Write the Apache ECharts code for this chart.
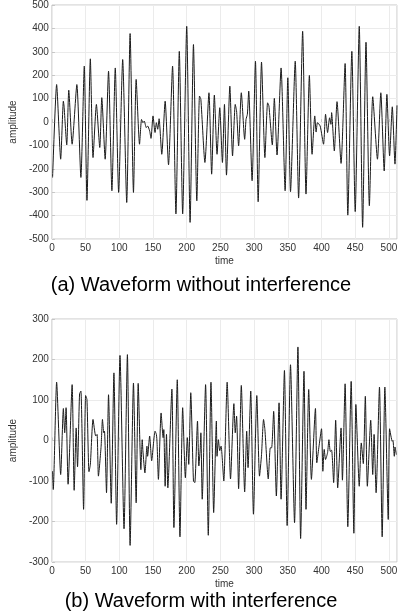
<!DOCTYPE html>
<html>
<head>
<meta charset="utf-8">
<script src="https://cdn.jsdelivr.net/npm/echarts@6/dist/echarts.min.js"></script>
<style>
  html, body { margin: 0; padding: 0; background: #fff; }
  #chart { width: 402px; height: 616px; }
</style>
</head>
<body>
<div id="chart"></div>
<script>
// (a) waveform without interference: time / amplitude
const timesA = [1, 7, 13, 17, 18, 22, 25, 30, 37, 43, 48, 52, 57, 61, 66, 71, 74, 79, 84, 89,
  94, 99, 105, 111, 116, 121, 125, 130, 133, 135, 137, 140, 142, 145, 147, 150, 153, 155, 157, 159,
  163, 168, 173, 179, 184, 189, 194, 200, 205, 210, 215, 219, 221, 227, 233, 237, 241, 245, 249, 253,
  256, 259, 264, 268, 272, 274, 277, 281, 286, 288, 290, 292, 297, 302, 306, 311, 316, 320, 322, 327,
  330, 334, 340, 346, 350, 354, 361, 366, 372, 377, 382, 386, 390, 392, 394, 398, 403, 406, 409, 412,
  414, 415, 419, 423, 429, 435, 439, 445, 450, 456, 461, 466, 471, 476, 483, 488, 493, 497, 501, 505,
  509, 512]
const ampA = [-237, 160, -159, 89, 68, -98, 136, -95, 160, -237, 239, -335, 270, -152, 75, -109, 104, -159, 217, -294,
  231, -301, 267, -344, 378, -301, 182, -95, 11, -3, 4, -24, -17, -38, -70, 26, -45, -3, -31, 14,
  -138, 89, -183, 239, -393, 302, -393, 409, -429, 331, -337, 111, 97, -173, 125, -223, 115, -138, 61, -173,
  75, -227, 153, -145, 75, 47, -102, 125, -74, 11, 33, 132, -251, 260, -341, 256, -152, 82, 68, -98,
  101, -141, 231, -294, 189, -298, 260, -325, 388, -308, 199, -138, 26, -43, -3, -17, -95, 33, -45, 18,
  -10, 40, -124, 87, -177, 250, -398, 302, -383, 409, -450, 341, -358, 108, -159, 125, -209, 118, -145, 65,
  -180, 71]

// (b) waveform with interference
const timesB = [1, 2, 7, 13, 17, 19, 21, 24, 30, 33, 36, 38, 41, 43, 47, 50, 52, 55, 57, 61,
  65, 67, 69, 73, 75, 77, 78, 81, 84, 88, 92, 96, 101, 107, 112, 116, 121, 125, 128, 132,
  134, 135, 138, 141, 142, 145, 148, 151, 153, 155, 156, 158, 162, 165, 166, 168, 170, 172, 178, 181,
  186, 190, 194, 198, 201, 203, 206, 210, 212, 216, 218, 220, 221, 223, 228, 232, 236, 240, 244, 245,
  247, 249, 251, 255, 260, 265, 270, 272, 274, 277, 281, 286, 289, 291, 295, 299, 304, 308, 311, 314,
  316, 321, 324, 326, 329, 333, 337, 340, 345, 349, 354, 360, 365, 369, 374, 377, 381, 385, 391, 393,
  396, 400, 402, 404, 406, 409, 411, 413, 415, 418, 421, 424, 429, 431, 435, 439, 444, 448, 451, 456,
  459, 462, 465, 468, 473, 476, 478, 481, 486, 490, 494, 499, 501, 505, 506, 508, 509, 511]
const ampB = [-76, -121, 144, -84, 79, 19, 81, -108, 138, -123, 31, -65, 115, 122, -170, 111, 101, -77, -60, 52,
  11, 15, -88, -14, 52, 19, 23, -129, 113, -155, 167, -207, 210, -218, 212, -259, 142, -154, 141, -72,
  2, -25, -80, -14, -39, 11, -50, -2, 23, 15, -6, -96, 68, 7, 27, -113, 15, -117, 127, -215,
  150, -238, 81, -92, 7, -59, 118, -100, -104, 48, -63, -22, 19, -145, 138, -234, 144, -178, 48, -39,
  2, -25, -14, -100, 144, -95, 91, 19, 60, -119, 136, -127, 23, -67, 122, -182, 111, -88, -35, 52,
  27, -95, -18, -18, 72, -137, 93, -145, 173, -210, 187, -203, 231, -242, 171, -170, 126, -96, 79, -55,
  -18, 29, -76, -22, -47, -30, 2, -27, -24, -104, 50, -117, 31, -98, 140, -213, 146, -229, 89, -113,
  -6, -57, 109, -113, 50, -84, 15, -129, 132, -238, 132, -195, 29, -2, 0, -39, -16, -35]

const xTicks = { min: 0, max: 512, interval: 50 }
const captions = ['(a) Waveform without interference', '(b) Waveform with interference']

const toPairs = (xs, ys) => xs.map((x, i) => [x, ys[i]])

const font = 'Liberation Sans, Arial, sans-serif'
const frameColor = '#c6c6c6'
const gridColor = '#ebebeb'
const labelColor = '#333'

const makeX = (gridIndex) => ({
  type: 'value',
  gridIndex,
  min: xTicks.min,
  max: xTicks.max,
  interval: xTicks.interval,
  name: 'time',
  nameLocation: 'middle',
  nameGap: 17,
  nameTextStyle: { fontSize: 10, color: labelColor, fontFamily: font },
  axisLine: { show: false },
  axisTick: { show: true, inside: true, length: 3, lineStyle: { color: frameColor } },
  axisLabel: { fontSize: 10, color: labelColor, fontFamily: font, margin: 4, showMaxLabel: false },
  splitLine: { show: true, lineStyle: { color: gridColor, width: 1 } },
})

const makeY = (gridIndex, lim) => ({
  type: 'value',
  gridIndex,
  min: -lim,
  max: lim,
  interval: 100,
  name: 'amplitude',
  nameLocation: 'middle',
  nameGap: 27,
  nameTextStyle: { fontSize: 10, color: labelColor, fontFamily: font },
  axisLine: { show: false },
  axisTick: { show: true, inside: true, length: 3, lineStyle: { color: frameColor } },
  axisLabel: { fontSize: 10, color: labelColor, fontFamily: font, margin: 3 },
  splitLine: { show: true, lineStyle: { color: gridColor, width: 1 } },
})

const lineSeries = (idx, data) => ({
  type: 'line',
  xAxisIndex: idx,
  yAxisIndex: idx,
  data,
  showSymbol: false,
  smooth: 0.2,
  animation: false,
  lineStyle: { color: '#1a1a1a', width: 1 },
})

const chart = echarts.init(document.getElementById('chart'))

chart.setOption({
  animation: false,
  title: [
    { text: captions[0], left: 'center', top: 275, padding: 0,
      textStyle: { fontSize: 20, fontWeight: 'normal', color: '#000', fontFamily: font } },
    { text: captions[1], left: 'center', top: 591, padding: 0,
      textStyle: { fontSize: 20, fontWeight: 'normal', color: '#000', fontFamily: font } },
  ],
  grid: [
    { left: 40, top: 5, width: 357, height: 234, show: true, borderColor: frameColor, borderWidth: 1 },
    { left: 40, top: 319, width: 357, height: 243, show: true, borderColor: frameColor, borderWidth: 1 },
  ],
  xAxis: [makeX(0), makeX(1)],
  yAxis: [makeY(0, 500), makeY(1, 300)],
  series: [
    lineSeries(0, toPairs(timesA, ampA)),
    lineSeries(1, toPairs(timesB, ampB)),
  ],
})
</script>
</body>
</html>
